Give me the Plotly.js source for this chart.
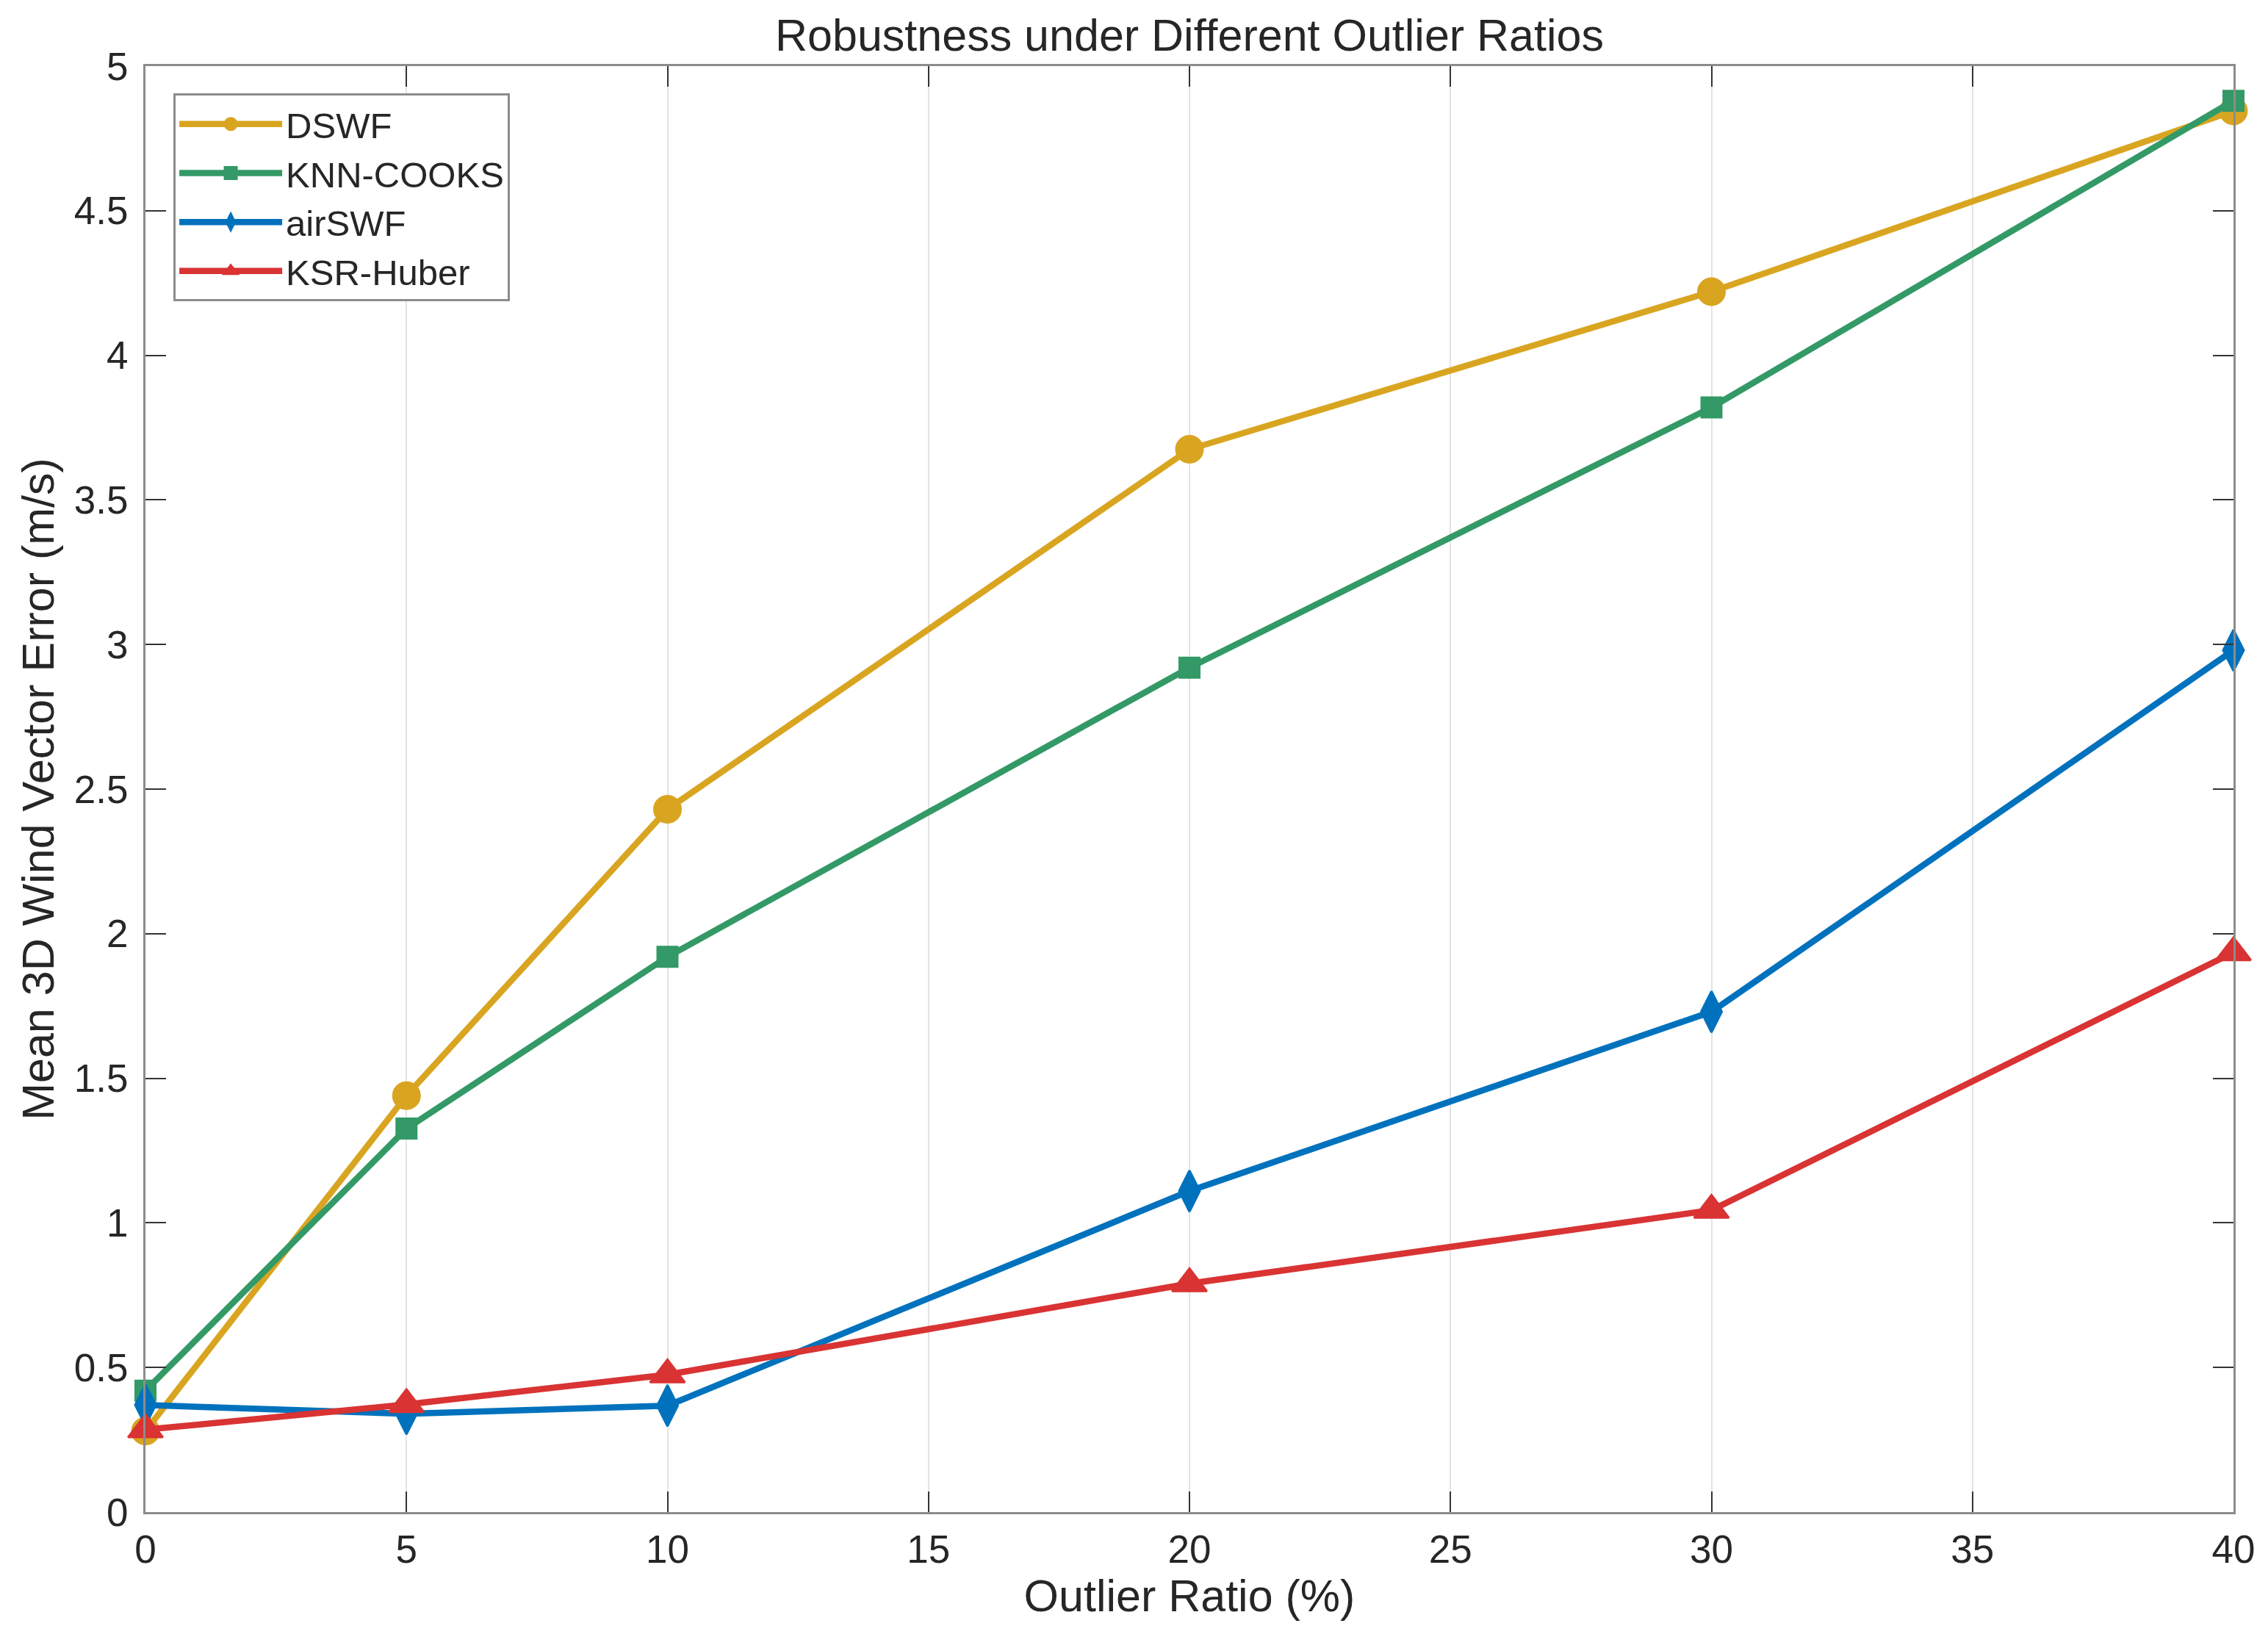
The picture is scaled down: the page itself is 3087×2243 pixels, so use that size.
<!DOCTYPE html>
<html>
<head>
<meta charset="utf-8">
<script src="https://cdn.plot.ly/plotly-3.0.1.min.js"></script>
<style>
  html, body { margin: 0; padding: 0; background: #ffffff; }
  #chart { width: 3087px; height: 2243px; }
</style>
</head>
<body>
<div id="chart"></div>
<script>
const outlierRatios = [0, 5, 10, 20, 30, 40];
const seriesNames = ["DSWF", "KNN-COOKS", "airSWF", "KSR-Huber"];
const dswfError = [0.28, 1.44, 2.43, 3.675, 4.22, 4.845];
const knnCooksError = [0.42, 1.326, 1.92, 2.92, 3.82, 4.88];
const airSwfError = [0.37, 0.34, 0.368, 1.11, 1.73, 2.98];
const ksrHuberError = [0.285, 0.372, 0.475, 0.79, 1.044, 1.935];
const xTickValues = [0, 5, 10, 15, 20, 25, 30, 35, 40];
const yTickValues = [0, 0.5, 1, 1.5, 2, 2.5, 3, 3.5, 4, 4.5, 5];
const yTickLabels = ["0", "0.5", "1", "1.5", "2", "2.5", "3", "3.5", "4", "4.5", "5"];

const fontFamily = '"Liberation Sans", Arial, Helvetica, sans-serif';
const textColor = "#262626";
const frameColor = "#8c8c8c";

function lineTrace(name, values, color, symbol, size) {
  return {
    type: "scatter",
    mode: "lines+markers",
    name: name,
    x: outlierRatios,
    y: values,
    line: { color: color, width: 8.5 },
    marker: {
      symbol: symbol,
      size: size,
      color: color,
      line: { color: color, width: 3 },
    },
    cliponaxis: false,
  };
}

const traces = [
  lineTrace(seriesNames[0], dswfError, "#D9A521", "circle", 36),
  lineTrace(seriesNames[1], knnCooksError, "#339966", "square", 27),
  lineTrace(seriesNames[2], airSwfError, "#0072BD", "diamond-tall", 40),
  lineTrace(seriesNames[3], ksrHuberError, "#D93333", "triangle-up", 41),
];

const axisCommon = {
  showline: true,
  linecolor: frameColor,
  linewidth: 3,
  mirror: "ticks",
  ticks: "inside",
  ticklen: 28,
  tickwidth: 2,
  tickcolor: "#333333",
  zeroline: false,
  tickfont: { family: fontFamily, size: 53, color: textColor },
};

const labelFont = { family: fontFamily, size: 61, color: textColor };

const layout = {
  width: 3087,
  height: 2243,
  margin: { l: 198, r: 47, t: 90, b: 185 },
  paper_bgcolor: "#ffffff",
  plot_bgcolor: "#ffffff",
  font: { family: fontFamily, color: textColor },
  title: {
    text: "Robustness under Different Outlier Ratios",
    font: labelFont,
    xref: "paper",
    x: 0.5,
    yref: "container",
    y: 1 - 48 / 2243,
    yanchor: "middle",
  },
  xaxis: Object.assign({}, axisCommon, {
    range: [0, 40],
    tickvals: xTickValues,
    showgrid: true,
    gridcolor: "#e3e3e3",
    gridwidth: 2,
    ticklabelstandoff: 2,
    title: {
      text: "Outlier Ratio (%)",
      font: labelFont,
      standoff: 14,
    },
  }),
  yaxis: Object.assign({}, axisCommon, {
    range: [0, 5],
    tickvals: yTickValues,
    ticktext: yTickLabels,
    showgrid: false,
    ticklabelstandoff: 10,
    title: {
      text: "Mean 3D Wind Vector Error (m/s)",
      font: labelFont,
      standoff: 8,
    },
  }),
  showlegend: true,
  legend: {
    x: 0.0134,
    y: 0.981,
    xanchor: "left",
    yanchor: "top",
    bgcolor: "#ffffff",
    bordercolor: frameColor,
    borderwidth: 3,
    font: { family: fontFamily, size: 49, color: textColor },
    itemwidth: 140,
    itemsizing: "trace",
  },
};

Plotly.newPlot("chart", traces, layout, { displayModeBar: false, staticPlot: true });
</script>
</body>
</html>
